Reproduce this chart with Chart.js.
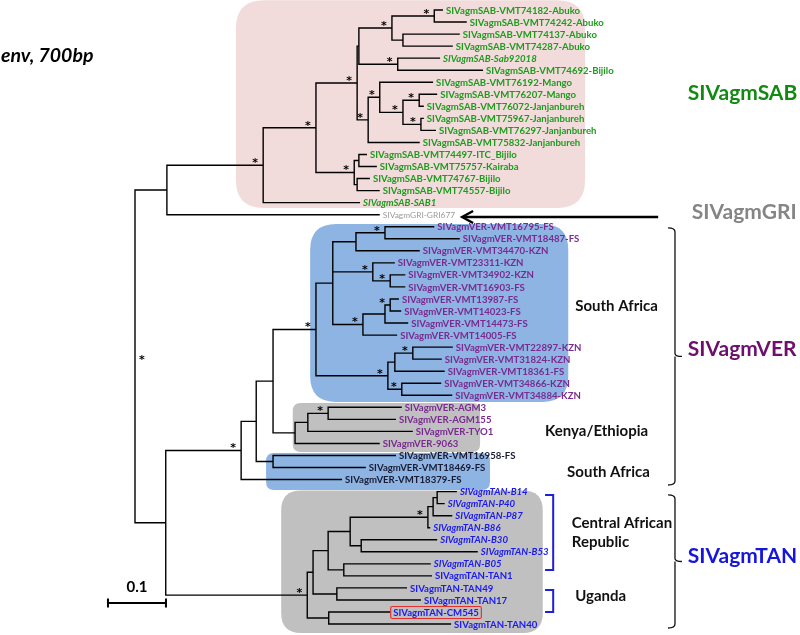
<!DOCTYPE html>
<html><head><meta charset="utf-8">
<script src="https://cdn.jsdelivr.net/npm/chart.js@4.4.0/dist/chart.umd.min.js"></script>
<style>html,body{margin:0;padding:0;background:#fff}#wrap{width:800px;height:635px;position:relative}</style>
</head><body><div id="wrap"><canvas id="c"></canvas></div>
<script>
// ---------- DATA ----------
const leafNames = [
 'SIVagmSAB-VMT74182-Abuko','SIVagmSAB-VMT74242-Abuko','SIVagmSAB-VMT74137-Abuko','SIVagmSAB-VMT74287-Abuko',
 'SIVagmSAB-Sab92018','SIVagmSAB-VMT74692-Bijilo','SIVagmSAB-VMT76192-Mango','SIVagmSAB-VMT76207-Mango',
 'SIVagmSAB-VMT76072-Janjanbureh','SIVagmSAB-VMT75967-Janjanbureh','SIVagmSAB-VMT76297-Janjanbureh','SIVagmSAB-VMT75832-Janjanbureh',
 'SIVagmSAB-VMT74497-ITC_Bijilo','SIVagmSAB-VMT75757-Kairaba','SIVagmSAB-VMT74767-Bijilo','SIVagmSAB-VMT74557-Bijilo',
 'SIVagmSAB-SAB1','SIVagmGRI-GRI677',
 'SIVagmVER-VMT16795-FS','SIVagmVER-VMT18487-FS','SIVagmVER-VMT34470-KZN','SIVagmVER-VMT23311-KZN',
 'SIVagmVER-VMT34902-KZN','SIVagmVER-VMT16903-FS','SIVagmVER-VMT13987-FS','SIVagmVER-VMT14023-FS',
 'SIVagmVER-VMT14473-FS','SIVagmVER-VMT14005-FS','SIVagmVER-VMT22897-KZN','SIVagmVER-VMT31824-KZN',
 'SIVagmVER-VMT18361-FS','SIVagmVER-VMT34866-KZN','SIVagmVER-VMT34884-KZN',
 'SIVagmVER-AGM3','SIVagmVER-AGM155','SIVagmVER-TYO1','SIVagmVER-9063',
 'SIVagmVER-VMT16958-FS','SIVagmVER-VMT18469-FS','SIVagmVER-VMT18379-FS',
 'SIVagmTAN-B14','SIVagmTAN-P40','SIVagmTAN-P87','SIVagmTAN-B86','SIVagmTAN-B30','SIVagmTAN-B53','SIVagmTAN-B05',
 'SIVagmTAN-TAN1','SIVagmTAN-TAN49','SIVagmTAN-TAN17','SIVagmTAN-CM545','SIVagmTAN-TAN40'
];
const leafDepth = [
 0.531,0.572,0.560,0.548,0.526,0.600,0.514,0.521,0.498,0.498,0.519,0.491,
 0.400,0.417,0.405,0.422,0.388,0.422,
 0.516,0.560,0.491,0.448,0.466,0.466,0.455,0.459,0.471,0.452,0.548,0.529,0.534,0.528,0.547,
 0.460,0.450,0.479,0.422,
 0.450,0.398,0.357,
 0.555,0.534,0.547,0.509,0.521,0.591,0.510,0.512,0.469,0.493,0.440,0.545
];
const leafClade = [
 'SAB','SAB','SAB','SAB','SAB','SAB','SAB','SAB','SAB','SAB','SAB','SAB','SAB','SAB','SAB','SAB','SAB','GRI',
 'VER','VER','VER','VER','VER','VER','VER','VER','VER','VER','VER','VER','VER','VER','VER',
 'VER','VER','VER','VER','VER2','VER2','VER2',
 'TAN','TAN','TAN','TAN','TAN','TAN','TAN','TAN','TAN','TAN','TAN','TAN'
];
const italicLeaves = ['SIVagmSAB-Sab92018','SIVagmSAB-SAB1','SIVagmTAN-B14','SIVagmTAN-P40','SIVagmTAN-P87',
 'SIVagmTAN-B86','SIVagmTAN-B30','SIVagmTAN-B53','SIVagmTAN-B05'];
const boxedLeaves = ['SIVagmTAN-CM545'];

const nodeIds = ['R','A','S','S1','S2','S2a','Ab','Ab1','Ab2','Sab','S8','S9','S10','S11','S12','S7','S13','S14',
 'W4','W3','W2','W1','V0','V2','V1','V1a','V3','V4','V5','V6','V7','V8','V9','V9a','V10',
 'K0','K1','K2','P','T0','T3','T5','T6','CAR1','CARa','CARb','BB','BT','T4','T2'];
const nodeDepth = [0,0.055,0.221,0.312,0.383,0.386,0.443,0.516,0.462,0.453,0.402,0.422,0.462,0.490,0.493,0.378,0.386,0.383,
 0.053,0.183,0.209,0.238,0.312,0.341,0.381,0.431,0.410,0.440,0.393,0.431,0.440,0.436,0.448,0.479,0.460,
 0.276,0.298,0.333,0.238,0.297,0.307,0.333,0.371,0.505,0.514,0.521,0.390,0.360,0.348,0.334];
const nodeChildren = [
 ['A','W4'],['S',17],['S1',16],['S2','S7'],['S2a','S8'],['Ab','Sab'],['Ab1','Ab2'],[0,1],[2,3],[4,5],
 ['S9',11],[6,'S10'],['S11','S12'],[7,8],[9,10],['S13','S14'],[12,13],[14,15],
 ['W3','T0'],['W2',39],['W1','P'],['V0','K0'],['V2','V8'],['V1','V3','V5'],['V1a',20],[18,19],[21,'V4'],[22,23],
 ['V6',27],['V7',26],[24,25],['V9','V10'],['V9a',30],[28,29],[31,32],
 ['K1',36],['K2',35],[33,34],[37,38],['T3','T2'],['T5','T4'],['T6','BT'],['CAR1','BB'],['CARa',43],['CARb',42],[40,41],
 [44,45],[46,47],[48,49],[50,51]
];
const supportNodes = ['R','S','S1','S2','Ab','Ab1','Sab','S8','S9','S10','S11','S12','S7',
 'W3','V0','V1a','V3','V4','V5','V7','V9a','V8','V10','K2','T0','CAR1'];
const scaleBarValue = 0.1;

// ---------- TREE GEOMETRY (from data) ----------
const nodeIndex = {}; nodeIds.forEach((id,i)=>nodeIndex[id]=i);
const nodeY = {};
function yOf(c){
  if (typeof c === 'number') return c;
  if (nodeY[c] !== undefined) return nodeY[c];
  const ys = nodeChildren[nodeIndex[c]].map(yOf);
  nodeY[c] = (Math.min(...ys) + Math.max(...ys)) / 2;
  return nodeY[c];
}
function xOf(c){ return typeof c === 'number' ? leafDepth[c] : nodeDepth[nodeIndex[c]]; }
const branchPts = [];
const GAP = {x: null, y: null};
nodeIds.forEach((id,i)=>{
  const nx = nodeDepth[i], ch = nodeChildren[i];
  const first = ch[0], last = ch[ch.length-1];
  branchPts.push({x:xOf(first),y:yOf(first)},{x:nx,y:yOf(first)},{x:nx,y:yOf(last)},{x:xOf(last),y:yOf(last)},GAP);
  ch.slice(1,-1).forEach(c=>branchPts.push({x:nx,y:yOf(c)},{x:xOf(c),y:yOf(c)},GAP));
});

// ---------- STYLE ----------
const cladeColor = {SAB:'#1f9a1f', GRI:'#9a9a9a', VER:'#7a2a90', VER2:'#1a1a33', TAN:'#1a1af0'};
const TIP_FONT = "bold 9.6px Lato";
const TIP_FONT_IT = "italic bold 9.6px Lato";
const TIP_FONT_GRI = "8.4px Lato";

const decor = {
  boxes: [
    {x0:0.174,x1:0.776,y0:-0.8,y1:16.45,r:28,color:'#f2dcdb'},
    {x0:0.302,x1:0.747,y0:17.77,y1:32.56,r:26,color:'#8db4e2'},
    {x0:0.272,x1:0.595,y0:32.64,y1:36.71,r:8,color:'#c0c0c0'},
    {x0:0.226,x1:0.612,y0:36.79,y1:39.87,r:8,color:'#8db4e2'},
    {x0:0.252,x1:0.703,y0:39.90,y1:51.74,r:20,color:'#c0c0c0'}
  ],
  cladeLabels: [
    {text:'SIVagmSAB',x:0.953,y:6.89,color:'#128a12'},
    {text:'SIVagmGRI',x:0.960,y:16.78,color:'#858585'},
    {text:'SIVagmVER',x:0.953,y:28.16,color:'#6e0f6e'},
    {text:'SIVagmTAN',x:0.953,y:45.35,color:'#1515dd'}
  ],
  regionLabels: [
    {text:'South Africa',x:0.759,y:24.58},
    {text:'Kenya/Ethiopia',x:0.707,y:34.97},
    {text:'South Africa',x:0.745,y:38.37},
    {text:'Central African',x:0.753,y:42.61},
    {text:'Republic',x:0.753,y:44.19},
    {text:'Uganda',x:0.759,y:48.67}
  ],
  braces: [{y0:18.1,y1:39.45},{y0:40.28,y1:51.33}],
  braceX:{hook:0.919,line:0.931,stub:0.943},
  blueBrackets: [{y0:40.28,y1:46.51},{y0:48.17,y1:50.0}],
  blueX:{hook:0.707,line:0.721},
  arrow:{from:0.902,to:0.564,y:17.19},
  scaleBar:{x0:-0.0466,y:49.25}
};

function rrect(ctx,x,y,w,h,r){
  ctx.beginPath();
  ctx.moveTo(x+r,y); ctx.lineTo(x+w-r,y); ctx.quadraticCurveTo(x+w,y,x+w,y+r);
  ctx.lineTo(x+w,y+h-r); ctx.quadraticCurveTo(x+w,y+h,x+w-r,y+h);
  ctx.lineTo(x+r,y+h); ctx.quadraticCurveTo(x,y+h,x,y+h-r);
  ctx.lineTo(x,y+r); ctx.quadraticCurveTo(x,y,x+r,y); ctx.closePath();
}

const treePlugin = {
  id:'treeDecor',
  beforeDatasetsDraw(chart){
    const {ctx, scales:{x:X, y:Y}} = chart;
    ctx.save();
    decor.boxes.forEach(b=>{
      const x0=X.getPixelForValue(b.x0), x1=X.getPixelForValue(b.x1);
      const y0=Y.getPixelForValue(b.y0), y1=Y.getPixelForValue(b.y1);
      ctx.fillStyle=b.color; rrect(ctx,x0,y0,x1-x0,y1-y0,b.r); ctx.fill();
    });
    ctx.restore();
  },
  afterDatasetsDraw(chart){
    const {ctx, scales:{x:X, y:Y}} = chart;
    ctx.save();
    // title
    ctx.fillStyle='#000'; ctx.font="italic bold 19.5px Lato"; ctx.textBaseline='alphabetic'; ctx.textAlign='left';
    ctx.fillText('env, 700bp',1,62);
    // leaf labels
    ctx.textBaseline='middle';
    leafNames.forEach((name,i)=>{
      const px = X.getPixelForValue(leafDepth[i]) + 3, py = Y.getPixelForValue(i) + 0.5;
      ctx.font = leafClade[i]==='GRI' ? TIP_FONT_GRI : (italicLeaves.includes(name) ? TIP_FONT_IT : TIP_FONT);
      ctx.fillStyle = cladeColor[leafClade[i]];
      ctx.fillText(name, px, py);
      if (boxedLeaves.includes(name)) {
        const w = ctx.measureText(name).width;
        ctx.strokeStyle='#e53030'; ctx.lineWidth=1.2;
        rrect(ctx,px-2.5,py-6,w+5,12,1.5); ctx.stroke();
      }
    });
    // support asterisks
    ctx.fillStyle='#000'; ctx.font="bold 11px 'DejaVu Sans'"; ctx.textAlign='center';
    supportNodes.forEach(id=>{
      const nx = X.getPixelForValue(nodeDepth[nodeIndex[id]]), ny = Y.getPixelForValue(yOf(id));
      if (id==='R') ctx.fillText('*', nx+7, ny+4);
      else ctx.fillText('*', nx-8, ny-2);
    });
    // clade labels
    ctx.textAlign='left';
    ctx.font="bold 21px Lato";
    decor.cladeLabels.forEach(l=>{ ctx.fillStyle=l.color; ctx.fillText(l.text, X.getPixelForValue(l.x), Y.getPixelForValue(l.y)); });
    ctx.font="bold 15px Lato"; ctx.fillStyle='#111';
    decor.regionLabels.forEach(l=>ctx.fillText(l.text, X.getPixelForValue(l.x), Y.getPixelForValue(l.y)));
    // braces
    ctx.strokeStyle='#111'; ctx.lineWidth=1.3;
    const hx=X.getPixelForValue(decor.braceX.hook), lx=X.getPixelForValue(decor.braceX.line), sx=X.getPixelForValue(decor.braceX.stub);
    decor.braces.forEach(b=>{
      const y0=Y.getPixelForValue(b.y0), y1=Y.getPixelForValue(b.y1), ym=(y0+y1)/2;
      ctx.beginPath(); ctx.moveTo(hx,y0); ctx.quadraticCurveTo(lx,y0,lx,y0+4); ctx.lineTo(lx,ym-3);
      ctx.quadraticCurveTo(lx,ym,sx,ym); ctx.moveTo(lx,ym+0); ctx.lineTo(lx,y1-4); ctx.quadraticCurveTo(lx,y1,hx,y1); ctx.stroke();
    });
    ctx.strokeStyle='#1f1fd6'; ctx.lineWidth=2;
    const bh=X.getPixelForValue(decor.blueX.hook), bl=X.getPixelForValue(decor.blueX.line);
    decor.blueBrackets.forEach(b=>{
      const y0=Y.getPixelForValue(b.y0), y1=Y.getPixelForValue(b.y1);
      ctx.beginPath(); ctx.moveTo(bh,y0); ctx.lineTo(bl,y0); ctx.lineTo(bl,y1); ctx.lineTo(bh,y1); ctx.stroke();
    });
    // arrow to GRI
    const ax0=X.getPixelForValue(decor.arrow.from), ax1=X.getPixelForValue(decor.arrow.to), ay=Y.getPixelForValue(decor.arrow.y);
    ctx.strokeStyle='#000'; ctx.lineWidth=2.4;
    ctx.beginPath(); ctx.moveTo(ax0,ay); ctx.lineTo(ax1+1,ay); ctx.stroke();
    ctx.beginPath(); ctx.moveTo(ax1+11,ay-6); ctx.lineTo(ax1,ay); ctx.lineTo(ax1+11,ay+6); ctx.stroke();
    // scale bar
    const sb0=X.getPixelForValue(decor.scaleBar.x0), sb1=X.getPixelForValue(decor.scaleBar.x0+scaleBarValue), sby=Y.getPixelForValue(decor.scaleBar.y);
    ctx.lineWidth=2; ctx.beginPath();
    ctx.moveTo(sb0,sby); ctx.lineTo(sb1,sby);
    ctx.moveTo(sb0,sby-4.5); ctx.lineTo(sb0,sby+4.5);
    ctx.moveTo(sb1,sby-4.5); ctx.lineTo(sb1,sby+4.5); ctx.stroke();
    ctx.fillStyle='#000'; ctx.font="bold 15px Lato"; ctx.textAlign='center';
    ctx.fillText(String(scaleBarValue),(sb0+sb1)/2,sby-16);
    ctx.restore();
  }
};

new Chart(document.getElementById('c'), {
  type:'scatter',
  data:{datasets:[{data:branchPts, showLine:true, spanGaps:false, borderColor:'#000', borderWidth:1.4,
    pointRadius:0, pointHoverRadius:0, tension:0, borderJoinStyle:'miter', borderCapStyle:'butt'}]},
  options:{
    responsive:true, maintainAspectRatio:false, animation:false, events:[],
    layout:{padding:0},
    plugins:{legend:{display:false}, tooltip:{enabled:false}},
    scales:{
      x:{type:'linear', min:-135/580, max:665/580, display:false},
      y:{type:'linear', min:-10/12.04, max:-10/12.04+635/12.04, reverse:true, display:false}
    }
  },
  plugins:[treePlugin]
});
</script></body></html>
